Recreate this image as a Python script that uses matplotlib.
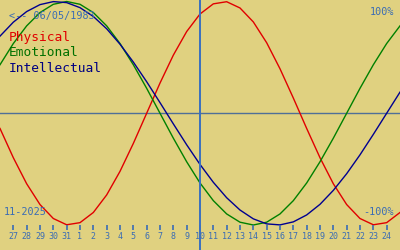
import matplotlib; matplotlib.use("Agg")
import matplotlib.pyplot as plt

# day labels along the bottom (26 Oct 2025 .. 25 Nov 2025 -> index 0..30)
day_labels = ["27", "28", "29", "30", "31"] + [str(d) for d in range(1, 25)]
today_idx = 15  # 10 Nov

# biorhythm values, one per day (index 0..30)
physical = [-0.136, -0.398, -0.631, -0.817, -0.942, -0.998, -0.979, -0.888, -0.731, -0.520,
            -0.270, 0.0, 0.270, 0.520, 0.731, 0.888, 0.979, 0.998, 0.942, 0.817,
            0.631, 0.398, 0.136, -0.136, -0.398, -0.631, -0.817, -0.942, -0.998, -0.979,
            -0.888]
emotional = [0.434, 0.624, 0.782, 0.901, 0.975, 1.0, 0.975, 0.901, 0.782, 0.624,
             0.434, 0.223, 0.0, -0.223, -0.434, -0.624, -0.782, -0.901, -0.975, -1.0,
             -0.975, -0.901, -0.782, -0.624, -0.434, -0.223, 0.0, 0.223, 0.434, 0.624,
             0.782]
intellectual = [0.690, 0.815, 0.910, 0.972, 0.999, 0.990, 0.945, 0.866, 0.756, 0.618,
                0.458, 0.282, 0.095, -0.095, -0.282, -0.458, -0.618, -0.756, -0.866, -0.945,
                -0.990, -0.999, -0.972, -0.910, -0.815, -0.690, -0.541, -0.372, -0.189, 0.0,
                0.189]

bg = "#e0d180"
lab = "#3a6cb4"
fig = plt.figure(figsize=(4, 2.5), dpi=100, facecolor=bg)
ax = fig.add_axes([0, 0, 1, 1], facecolor=bg)
ymax, ymin = 1.0134, -1.2237
ax.set_xlim(0, 30); ax.set_ylim(ymin, ymax); ax.axis("off")
mono = "DejaVu Sans Mono"

xs = list(range(len(physical)))
ax.plot(xs, physical, color="#e00000", lw=1.0)
ax.plot(xs, emotional, color="#008000", lw=1.0)
ax.plot(xs, intellectual, color="#000090", lw=1.0)
ax.axhline(0, color="#4f6f98", lw=1.0, zorder=1)
ax.axvline(today_idx, color="#3a70c0", lw=1.4, zorder=5)

# day ticks + labels
ticks = list(range(1, len(day_labels) + 1))
ax.vlines(ticks, -1.045, -1.0, color=lab, lw=1.2)
for t, s in zip(ticks, day_labels):
    ax.text(t, -1.107, s, color=lab, fontsize=6, family=mono, ha="center", va="center")

tr = ax.transAxes
ax.text(9/400, 1 - 16/250, "<-- 06/05/1983", transform=tr, color=lab, fontsize=7.3, family=mono, va="center")
ax.text(394/400, 1 - 12/250, "100%", transform=tr, color=lab, fontsize=7.3, family=mono, va="center", ha="right")
ax.text(394/400, 1 - 212/250, "-100%", transform=tr, color=lab, fontsize=7.3, family=mono, va="center", ha="right")
ax.text(4/400, 1 - 212/250, "11-2025", transform=tr, color=lab, fontsize=7.3, family=mono, va="center")
for name, col, yy in [("Physical", "#e00000", 38), ("Emotional", "#007000", 53), ("Intellectual", "#000080", 68)]:
    ax.text(9/400, 1 - yy/250, name, transform=tr, color=col, fontsize=9.3, family=mono, va="center")

fig.savefig("out.png", dpi=100, facecolor=bg)
